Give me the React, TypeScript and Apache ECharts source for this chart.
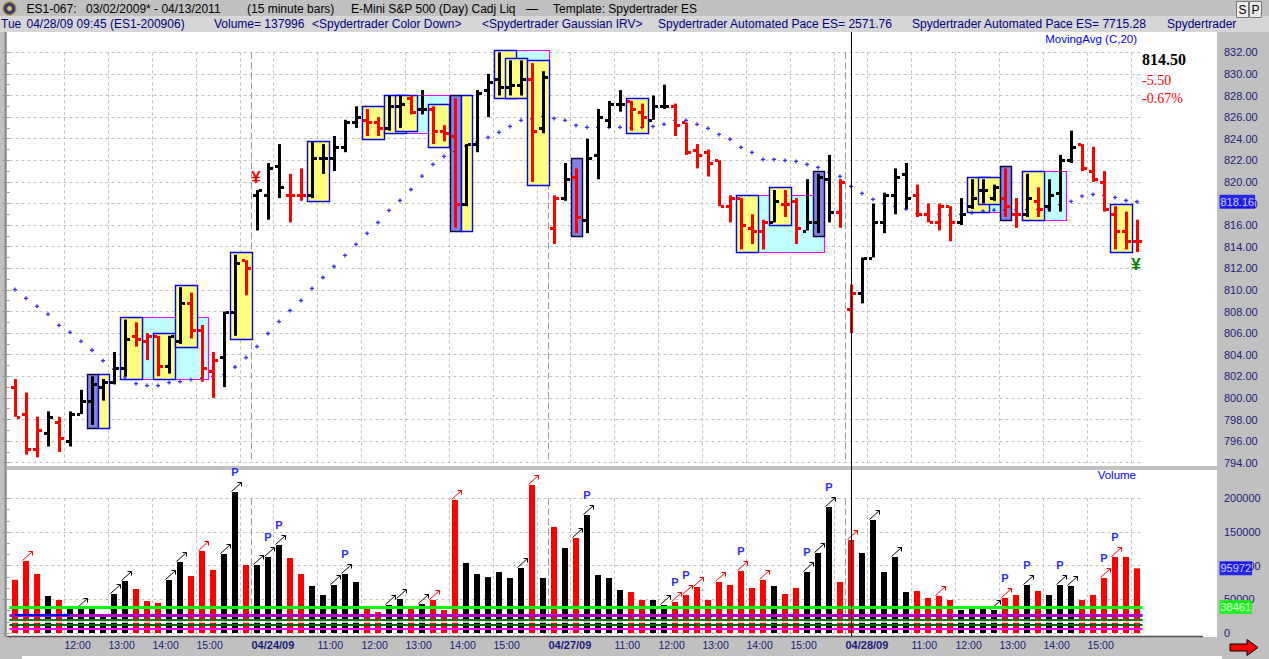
import React, { useEffect, useRef } from "react";
import * as echarts from "echarts";

const W = 1269;
const H = 659;
const FONT = "'Liberation Sans', Arial, sans-serif";
const SERIF = "'Liberation Serif', 'Times New Roman', serif";
const RED = "#ff0000";
const BLACK = "#000000";

// ---------- sessions / categories ----------
const sessions = [
  { day: "04/23/09", start: "11:00", count: 22 },
  { day: "04/24/09", start: "09:45", count: 27 },
  { day: "04/27/09", start: "09:45", count: 27 },
  { day: "04/28/09", start: "09:45", count: 27 },
];

// ---------- OHLC (15 minute bars) ----------
const opens = [
  801.0, 798.5, 795.25, 796.75, 797.75, 796.0, 798.5, 799.75, 801.0, 801.5,
  802.75, 805.75, 805.25, 805.75, 803.0, 805.25, 808.75, 806.25, 802.5, 803.75,
  808.0, 812.75, 818.75, 818.75, 821.5, 818.75, 818.75, 818.75, 822.25, 822.25,
  823.25, 825.5, 825.75, 825.5, 825.0, 827.0, 827.75, 826.75, 826.75, 824.75,
  824.25, 818.0, 823.5, 828.5, 829.5, 828.75, 829.0, 829.5, 825.0, 815.75,
  818.5, 820.5, 816.5, 822.5, 825.75, 827.25, 827.5, 826.5, 825.75, 827.0,
  827.0, 825.5, 823.0, 822.75, 822.0, 817.75, 818.5, 815.75, 815.5, 816.25,
  818.0, 818.25, 815.5, 816.25, 820.25, 817.25, 808.25, 809.75, 813.0, 816.25,
  818.75, 820.75, 818.75, 817.0, 816.25, 817.75, 816.25, 817.75, 819.25, 818.5,
  818.5, 817.0, 817.0, 818.25, 817.75, 819.0, 822.0, 823.5, 821.0, 820.0,
  817.0, 815.5, 814.5,
];
const highs = [
  801.75, 800.5, 798.25, 798.75, 798.25, 798.75, 800.75, 802.0, 801.75, 804.25,
  807.25, 807.0, 806.0, 805.75, 805.75, 810.25, 809.75, 806.75, 804.25, 808.0,
  813.25, 812.75, 819.25, 821.75, 823.5, 820.75, 821.25, 823.75, 823.5, 824.25,
  825.75, 827.0, 826.75, 826.0, 828.0, 828.0, 828.0, 828.5, 827.0, 825.25,
  827.75, 823.5, 828.5, 830.0, 832.0, 831.25, 831.25, 831.0, 830.25, 818.75,
  821.75, 821.25, 824.0, 826.75, 827.5, 828.5, 827.5, 827.25, 828.0, 829.0,
  827.25, 825.5, 823.5, 823.0, 822.0, 818.75, 818.5, 817.0, 816.5, 819.25,
  819.25, 818.5, 820.25, 820.75, 822.5, 820.25, 810.5, 813.0, 818.0, 819.0,
  821.25, 821.75, 819.75, 818.0, 818.0, 817.75, 818.5, 820.25, 820.25, 819.75,
  821.25, 818.5, 820.75, 819.5, 820.25, 822.5, 824.75, 823.5, 823.25, 821.0,
  817.75, 817.25, 816.5,
];
const lows = [
  798.25, 794.75, 794.5, 795.5, 795.0, 795.5, 798.5, 797.5, 799.75, 801.25,
  802.0, 804.75, 803.5, 802.0, 802.25, 805.0, 805.5, 801.5, 800.0, 801.0,
  805.75, 809.5, 815.5, 816.5, 818.5, 816.25, 818.25, 818.5, 820.75, 821.0,
  822.75, 825.0, 824.25, 824.25, 824.75, 825.0, 826.25, 826.25, 823.5, 823.75,
  815.75, 817.75, 822.75, 826.0, 828.0, 828.0, 828.0, 820.0, 824.5, 814.25,
  818.25, 815.25, 815.25, 820.25, 825.0, 826.5, 824.75, 825.0, 825.75, 826.75,
  824.25, 822.5, 821.25, 820.5, 817.75, 816.25, 813.75, 814.25, 813.75, 816.25,
  816.75, 814.25, 815.5, 815.25, 816.25, 815.75, 806.0, 808.75, 813.0, 815.25,
  817.0, 817.5, 816.75, 816.25, 815.5, 814.5, 816.0, 817.5, 818.0, 818.25,
  816.75, 815.75, 816.75, 816.75, 817.25, 817.25, 821.75, 821.0, 820.0, 817.25,
  813.75, 813.75, 813.5,
];
const closes = [
  798.25, 795.25, 797.0, 798.25, 796.25, 798.5, 799.75, 801.25, 801.5, 802.75,
  805.5, 805.5, 805.75, 803.0, 805.75, 808.75, 806.25, 802.75, 803.5, 808.0,
  812.5, 812.0, 819.25, 821.25, 819.5, 818.75, 818.75, 822.25, 822.25, 823.25,
  825.5, 826.0, 825.5, 825.0, 827.0, 827.25, 826.5, 826.75, 824.75, 824.5,
  818.0, 823.5, 828.25, 829.25, 828.75, 829.0, 829.5, 824.75, 829.75, 818.5,
  820.25, 816.75, 822.25, 826.0, 827.25, 827.25, 826.75, 826.0, 827.0, 827.0,
  825.25, 822.75, 822.5, 821.75, 817.75, 818.5, 816.0, 815.5, 816.25, 818.25,
  818.0, 815.75, 816.25, 820.5, 817.25, 820.0, 809.75, 813.0, 816.25, 818.75,
  820.5, 818.5, 817.0, 816.25, 817.75, 816.25, 817.0, 818.5, 819.25, 819.5,
  817.75, 817.0, 818.5, 817.5, 818.75, 822.0, 823.25, 821.25, 820.25, 817.5,
  815.5, 814.5, 814.5,
];
// r = red (down colour), b = black
const barColors = (
  "rrrbrbbbbb" + "brrrbbrrrb" + "brbbbrrbbb" + "bbrrbbrbrr" + "rbbbbbbrbr" +
  "brbbbbrrbb" + "rrrrrrrrrb" + "rrbbbrrbbb" + "bbrrrrbbbb" + "rrbrbbbrrr" + "rrr"
).split("");

const volumes = [
  79000, 107000, 87600, 54900, 49000, 37500, 37500, 37500, 26000, 57900,
  77200, 65300, 47500, 44600, 78700, 105400, 84600, 121800, 93600, 117300,
  209400, 101000, 101000, 112900, 130700, 111400, 87600, 69800, 56400, 71300,
  87600, 75700, 37000, 31000, 41500, 50500, 37000, 43000, 49000, 34000,
  197500, 104000, 87600, 83000, 90600, 81700, 96500, 219800, 81700, 157400,
  126200, 141000, 175200, 86100, 81700, 63900, 60900, 49000, 49000, 41600,
  46000, 56400, 68300, 49000, 75700, 71300, 92100, 66800, 78700, 69800,
  57900, 66800, 90600, 118800, 187100, 75700, 137996, 118800, 167800, 90600,
  112900, 60900, 62400, 52000, 55000, 49000, 34200, 40100, 37000, 34200,
  52000, 56400, 71300, 62400, 56400, 71300, 69800, 49000, 56400, 81700,
  112900, 112900, 95972,
];

const movingAvg = [
  810.03, 809.22, 808.48, 807.74, 806.72, 806.07, 805.24, 804.41, 803.45, 802.65,
  801.94, 801.32, 801.14, 801.14, 801.42, 801.51, 801.69, 801.84, 801.98, 802.16,
  802.86, 803.73, 804.75, 805.96, 807.07, 808.09, 809.02, 810.13, 811.15, 812.17,
  813.19, 814.21, 815.23, 816.24, 817.36, 818.28, 819.3, 820.54, 821.62, 822.36,
  822.8, 823.32, 823.7, 824.12, 824.59, 825.14, 825.7, 825.85, 826.05, 825.88,
  825.7, 825.23, 825.05, 825.05, 825.05, 825.05, 825.0, 825.05, 825.14, 825.33,
  825.7, 825.7, 825.33, 824.96, 824.4, 823.94, 823.2, 822.73, 822.08, 822.08,
  821.99, 821.9, 821.62, 821.34, 820.88, 820.51, 819.58, 818.93, 818.38, 818.0,
  817.75, 817.48, 817.08, 817.0, 817.0, 816.92, 817.0, 817.14, 817.29, 817.39,
  817.4, 817.42, 817.42, 817.45, 817.5, 817.9, 818.19, 818.68, 818.84, 818.75,
  818.56, 818.28, 818.16,
];

// highlight boxes: [fromBar, toBar, topPrice, bottomPrice, kind] c=cyan y=yellow p=purple
const boxes: [number, number, number, number, string][] = [
  [12, 17, 807.5, 801.75, "c"],
  [34, 39, 828.0, 824.5, "c"],
  [44, 48, 832.25, 827.75, "c"],
  [66, 73, 818.75, 813.5, "c"],
  [87, 89, 820.5, 817.25, "c"],
  [92, 95, 821.0, 816.5, "c"],
  [7, 7, 802.25, 797.25, "p"],
  [8, 8, 802.25, 797.25, "y"],
  [10, 11, 807.5, 801.75, "y"],
  [13, 14, 806.0, 801.75, "y"],
  [15, 16, 810.5, 804.75, "y"],
  [20, 21, 813.5, 805.5, "y"],
  [27, 28, 823.75, 818.25, "y"],
  [32, 33, 827.0, 824.0, "y"],
  [34, 35, 828.0, 824.5, "y"],
  [35, 36, 828.0, 824.75, "y"],
  [38, 39, 827.25, 823.25, "y"],
  [40, 40, 828.0, 815.5, "p"],
  [41, 41, 828.0, 815.5, "y"],
  [44, 45, 832.25, 827.75, "y"],
  [45, 46, 831.5, 827.75, "y"],
  [47, 48, 831.25, 819.75, "y"],
  [51, 51, 822.25, 815.0, "p"],
  [56, 57, 827.75, 824.5, "y"],
  [66, 67, 818.75, 813.5, "y"],
  [69, 70, 819.5, 816.0, "y"],
  [73, 73, 821.0, 815.0, "p"],
  [87, 88, 820.5, 817.25, "y"],
  [88, 89, 820.5, 818.0, "y"],
  [90, 90, 821.5, 816.5, "p"],
  [92, 93, 821.0, 816.5, "y"],
  [100, 101, 818.0, 813.5, "y"],
];

// volume arrows [bar, colour]
const arrowList: [number, string][] = [
  [1, "r"], [6, "b"], [9, "b"], [10, "b"], [14, "b"], [15, "b"], [17, "r"], [19, "b"],
  [20, "b"], [22, "b"], [23, "b"], [24, "b"], [29, "b"], [30, "b"], [34, "b"], [35, "b"],
  [37, "b"], [38, "r"], [40, "r"], [46, "b"], [47, "r"], [51, "b"], [52, "b"], [59, "b"],
  [60, "r"], [61, "r"], [62, "r"], [64, "r"], [66, "r"], [68, "r"], [72, "b"], [73, "b"],
  [74, "b"], [76, "r"], [78, "b"], [80, "b"], [84, "r"], [89, "b"], [90, "r"], [92, "b"],
  [95, "b"], [96, "b"], [99, "r"], [100, "r"],
];
const pBars = [20, 23, 24, 30, 52, 60, 61, 66, 72, 74, 90, 92, 95, 99, 100];

// ¥ signals
const yenBars = [22, 102];
const yenSides = ["above", "below"];
const yenColors = ["#ff0000", "#008000"];

// axis ticks
const priceMin = 794;
const priceMax = 832;
const priceStep = 2;
const volMax = 200000;
const volStep = 50000;
const hourLines = [5, 9, 13, 17, 21, 24, 28, 32, 36, 40, 44, 48, 51, 55, 59, 63, 67, 71, 75, 78, 82, 86, 90, 94, 98, 102];
const dayLines = [22, 49, 76];
const xTickIdx = [5, 9, 13, 17, 22, 28, 32, 36, 40, 44, 49, 55, 59, 63, 67, 71, 76, 82, 86, 90, 94, 98];
const xTickText = [
  "12:00", "13:00", "14:00", "15:00", "04/24/09", "11:00", "12:00", "13:00", "14:00", "15:00",
  "04/27/09", "11:00", "12:00", "13:00", "14:00", "15:00", "04/28/09", "11:00", "12:00", "13:00",
  "14:00", "15:00",
];

// volume reference lines
const avgVolume = 38461;
const volLineValues = [avgVolume, 26000, 20300, 16700, 12600, 5900];
const volLineColors = ["#00ff00", "#b000c8", "#008000", "#ffffff", "#006400", "#ff00ff"];
const volLineWidths = [3, 3, 2, 1.5, 2, 2];
const blueLine = { from: 0, to: 5, value: 27800 };

const cursorBar = 76;
const prevCloseBar = 75;

// ---------- derived categories ----------
const barCats: string[] = [];
sessions.forEach((s) => {
  let [h, m] = s.start.split(":").map(Number);
  for (let k = 0; k < s.count; k++) {
    barCats.push(`${s.day} ${String(h).padStart(2, "0")}:${String(m).padStart(2, "0")}`);
    m += 15;
    if (m >= 60) {
      m -= 60;
      h += 1;
    }
  }
});
const boundaryCats = Array.from({ length: barCats.length + 1 }, (_, i) => String(i));
const hourSet = new Set(hourLines);
const daySet = new Set(dayLines);
const tickMap = new Map<number, string>();
xTickIdx.forEach((idx, k) => tickMap.set(idx, xTickText[k]));

// ---------- layout ----------
const GL = 9.5;
const BAND = 11;
const GW = BAND * barCats.length;
const PT = 52.3;
const PH = 410.4;
const VT = 498.3;
const VH = 134.7;
const AXR = 52;

const gridLine = { color: "#c0c0c0", type: [3, 3] as any, width: 1 };
const dayLine = { color: "#9a9a9a", type: [7, 3] as any, width: 1 };

function txt(x: number, y: number, text: string, fill: string, font: string, align = "left") {
  return {
    type: "text",
    x,
    y,
    z: 100,
    silent: true,
    style: {
      text,
      fill,
      font,
      align,
      textAlign: align,
      verticalAlign: "middle",
      textVerticalAlign: "middle",
    },
  };
}

function buildOption() {
  const last = closes[closes.length - 1];
  const prev = closes[prevCloseBar];
  const chg = last - prev;
  const pct = (chg / prev) * 100;

  const hdr1 = `12px ${FONT}`;
  const navy = "#000080";

  const graphics: any[] = [
    { type: "rect", z: -100, silent: true, shape: { x: 0, y: 0, width: W, height: H }, style: { fill: "#c0c0c0" } },
    { type: "rect", z: -99, silent: true, shape: { x: 0, y: 16, width: W, height: 16 }, style: { fill: "#d6d6d6" } },
    { type: "rect", z: -99, silent: true, shape: { x: 7, y: 32, width: 1210, height: 434 }, style: { fill: "#ffffff" } },
    { type: "rect", z: -99, silent: true, shape: { x: 7, y: 470, width: 1210, height: 167 }, style: { fill: "#ffffff" } },
    { type: "line", z: -98, silent: true, shape: { x1: 5.5, y1: 32, x2: 5.5, y2: 637 }, style: { stroke: "#8a8a8a", lineWidth: 2 } },
    { type: "line", z: 10, silent: true, shape: { x1: 7, y1: 636.5, x2: 1203, y2: 636.5 }, style: { stroke: "#505050", lineWidth: 1.5 } },
    { type: "rect", z: -99, silent: true, shape: { x: 22, y: 656, width: 1200, height: 3 }, style: { fill: "#ffffff" } },
    // header icon
    { type: "circle", z: 100, silent: true, shape: { cx: 9.5, cy: 8.5, r: 6.5 }, style: { fill: "#3c3c6e", stroke: "#b89a40", lineWidth: 1.2 } },
    { type: "circle", z: 101, silent: true, shape: { cx: 9.5, cy: 8.5, r: 2.5 }, style: { fill: "#d8c070" } },
    // S / P buttons
    { type: "rect", z: 100, silent: true, shape: { x: 1236.5, y: 1.5, width: 12, height: 16 }, style: { fill: "#ececec", stroke: "#7a7a7a", lineWidth: 1 } },
    { type: "rect", z: 100, silent: true, shape: { x: 1249.5, y: 1.5, width: 12, height: 16 }, style: { fill: "#ececec", stroke: "#7a7a7a", lineWidth: 1 } },
    txt(1242.5, 10, "S", BLACK, `12px ${FONT}`, "center"),
    txt(1255.5, 10, "P", BLACK, `12px ${FONT}`, "center"),
    // header row 1
    txt(26.5, 8.5, "ES1-067:", BLACK, hdr1),
    txt(86, 8.5, "03/02/2009* - 04/13/2011", BLACK, hdr1),
    txt(247, 8.5, "(15 minute bars)", BLACK, hdr1),
    txt(351, 8.5, "E-Mini S&P 500 (Day) Cadj Liq", BLACK, hdr1),
    txt(526, 8.5, "\u2014", BLACK, hdr1),
    txt(553, 8.5, "Template: Spydertrader ES", BLACK, hdr1),
    // header row 2
    txt(1, 24, "Tue", navy, hdr1),
    txt(26.5, 24, `${barCats[cursorBar]} (ES1-200906)`, navy, hdr1),
    txt(214, 24, `Volume= ${volumes[cursorBar]}`, navy, hdr1),
    txt(312, 24, "<Spydertrader Color Down>", navy, hdr1),
    txt(482, 24, "<Spydertrader Gaussian IRV>", navy, hdr1),
    txt(658, 24, "Spydertrader Automated Pace ES= 2571.76", navy, hdr1),
    txt(912, 24, "Spydertrader Automated Pace ES= 7715.28", navy, hdr1),
    txt(1167, 24, "Spydertrader", navy, hdr1),
    // panel captions
    txt(1137, 38.5, "MovingAvg (C,20)", "#0000ff", `11.5px ${FONT}`, "right"),
    txt(1136, 475, "Volume", "#0000ff", `11.5px ${FONT}`, "right"),
    txt(1142, 59.5, last.toFixed(2), BLACK, `bold 16px ${SERIF}`),
    txt(1142, 80, chg.toFixed(2), RED, `14px ${SERIF}`),
    txt(1142, 98, `${pct.toFixed(2)}%`, RED, `14px ${SERIF}`),
    // bottom right arrow
    {
      type: "polygon",
      z: 100,
      silent: true,
      shape: { points: [[1230, 644], [1247, 644], [1247, 639.5], [1258, 647.5], [1247, 655.5], [1247, 651], [1230, 651]] },
      style: { fill: "#ff0000", stroke: "#000000", lineWidth: 1 },
    },
  ];

  const hiddenCat = (grid: number) => ({ type: "category", gridIndex: grid, data: barCats, boundaryGap: true, show: false, position: "bottom" });
  const boundsAxis = (grid: number, set: Set<number>, style: any, labels: boolean) => ({
    type: "category",
    gridIndex: grid,
    position: "bottom",
    data: boundaryCats,
    boundaryGap: false,
    axisLine: { show: false },
    axisTick: { show: false },
    splitLine: { show: true, interval: (i: number) => set.has(i), lineStyle: style },
    axisLabel: labels
      ? {
          show: true,
          interval: (i: number) => tickMap.has(i),
          align: "left",
          margin: 6,
          formatter: (_v: string, i: number) => {
            const t = tickMap.get(i) || "";
            return t.includes("/") ? `{d|${t}}` : `{h|${t}}`;
          },
          rich: {
            d: { fontFamily: FONT, fontSize: 11, fontWeight: "bold", color: "#1a1a78" },
            h: { fontFamily: FONT, fontSize: 10.5, color: "#1a1a78" },
          },
        }
      : { show: false },
  });

  return {
    animation: false,
    graphic: { elements: graphics },
    grid: [
      { left: GL, top: PT, width: GW, height: PH, outerBoundsMode: "none" },
      { left: GL, top: PT, right: AXR, height: PH, outerBoundsMode: "none" },
      { left: GL, top: VT, width: GW, height: VH, outerBoundsMode: "none" },
      { left: GL, top: VT, right: AXR, height: VH, outerBoundsMode: "none" },
    ],
    xAxis: [
      hiddenCat(0),
      boundsAxis(0, hourSet, gridLine, false),
      boundsAxis(0, daySet, dayLine, false),
      { type: "value", gridIndex: 1, min: 0, max: 1, show: false },
      hiddenCat(2),
      boundsAxis(2, hourSet, gridLine, true),
      boundsAxis(2, daySet, dayLine, false),
      { type: "value", gridIndex: 3, min: 0, max: 1, show: false },
    ],
    yAxis: [
      {
        type: "value", gridIndex: 0, min: priceMin, max: priceMax, interval: priceStep,
        axisLine: { show: false }, axisTick: { show: false }, axisLabel: { show: false },
        splitLine: { show: true, lineStyle: gridLine },
      },
      {
        type: "value", gridIndex: 1, position: "right", min: priceMin, max: priceMax, interval: priceStep,
        axisLine: { show: false },
        axisTick: { show: true, inside: true, length: 7, lineStyle: { color: "#9a9a9a" } },
        minorTick: { show: true, splitNumber: 2, length: 4, lineStyle: { color: "#9a9a9a" } },
        splitLine: { show: false },
        axisLabel: { show: true, margin: 7, color: "#1c1c78", fontFamily: FONT, fontSize: 11, formatter: (v: number) => v.toFixed(2) },
      },
      {
        type: "value", gridIndex: 2, min: 0, max: volMax, interval: volStep,
        axisLine: { show: false }, axisTick: { show: false }, axisLabel: { show: false },
        splitLine: { show: true, lineStyle: gridLine },
      },
      {
        type: "value", gridIndex: 3, position: "right", min: 0, max: volMax, interval: volStep,
        axisLine: { show: false },
        axisTick: { show: true, inside: true, length: 7, lineStyle: { color: "#9a9a9a" } },
        minorTick: { show: true, splitNumber: 3, length: 4, lineStyle: { color: "#9a9a9a" } },
        splitLine: { show: false },
        axisLabel: { show: true, margin: 7, color: "#1c1c78", fontFamily: FONT, fontSize: 11, formatter: (v: number) => String(v) },
      },
    ],
    series: [
      // highlight boxes
      {
        type: "custom",
        xAxisIndex: 0,
        yAxisIndex: 0,
        z: 1,
        silent: true,
        data: boxes.map((b) => [b[0], b[1], b[2], b[3]]),
        renderItem: (params: any, api: any) => {
          const kind = boxes[params.dataIndex][4];
          const w = api.size([1, 0])[0];
          const p1 = api.coord([api.value(0), api.value(2)]);
          const p2 = api.coord([api.value(1), api.value(3)]);
          const x1 = Math.round(p1[0] - w / 2) + 0.5;
          const x2 = Math.round(p2[0] + w / 2) + 0.5;
          const y1 = Math.round(p1[1]) + 0.5;
          const y2 = Math.round(p2[1]) + 0.5;
          const style =
            kind === "c"
              ? { fill: "#c0ffff", stroke: "#ff00ff", lineWidth: 1.2 }
              : kind === "p"
              ? { fill: "#8282e6", stroke: "#0a0a40", lineWidth: 1.4 }
              : { fill: "#ffff80", stroke: "#0000ff", lineWidth: 1.4 };
          return { type: "rect", shape: { x: x1, y: y1, width: x2 - x1, height: y2 - y1 }, style };
        },
      },
      // moving average dots
      {
        type: "scatter",
        xAxisIndex: 0,
        yAxisIndex: 0,
        z: 2,
        silent: true,
        symbol: "path://M1,0H2V1H3V2H2V3H1V2H0V1H1Z",
        symbolSize: 4,
        itemStyle: { color: "#0000ff" },
        data: movingAvg.map((v, i) => [i, v]),
      },
      // OHLC bars
      {
        type: "custom",
        xAxisIndex: 0,
        yAxisIndex: 0,
        z: 3,
        silent: true,
        data: opens.map((o, i) => [i, o, highs[i], lows[i], closes[i]]),
        renderItem: (params: any, api: any) => {
          const i = api.value(0);
          const ph = api.coord([i, api.value(2)]);
          const pl = api.coord([i, api.value(3)]);
          const po = api.coord([i, api.value(1)]);
          const pc = api.coord([i, api.value(4)]);
          const x = Math.round(ph[0]);
          const fill = barColors[params.dataIndex] === "r" ? RED : BLACK;
          return {
            type: "group",
            children: [
              { type: "rect", shape: { x: x - 1, y: ph[1], width: 3, height: Math.max(2, pl[1] - ph[1]) }, style: { fill } },
              { type: "rect", shape: { x: x - 4, y: Math.round(po[1]) - 1, width: 3, height: 3 }, style: { fill } },
              { type: "rect", shape: { x: x + 2, y: Math.round(pc[1]) - 1, width: 3, height: 3 }, style: { fill } },
            ],
          };
        },
      },
      // ¥ signals
      {
        type: "custom",
        xAxisIndex: 0,
        yAxisIndex: 0,
        z: 4,
        silent: true,
        data: yenBars.map((b, k) => [b, yenSides[k] === "above" ? highs[b] : lows[b]]),
        renderItem: (params: any, api: any) => {
          const k = params.dataIndex;
          const p = api.coord([api.value(0), api.value(1)]);
          const y = yenSides[k] === "above" ? p[1] - 13 : p[1] + 12;
          return {
            type: "text",
            x: p[0] - 1,
            y,
            style: {
              text: "\u00a5",
              fill: yenColors[k],
              font: `bold 17px ${FONT}`,
              align: "center",
              textAlign: "center",
              verticalAlign: "middle",
              textVerticalAlign: "middle",
            },
          };
        },
      },
      // cursor line spanning both panels
      {
        type: "custom",
        xAxisIndex: 0,
        yAxisIndex: 0,
        z: 20,
        silent: true,
        data: [[cursorBar, priceMin]],
        renderItem: (_p: any, api: any) => {
          const p = api.coord([api.value(0), api.value(1)]);
          const x = Math.round(p[0]) + 0.5;
          return { type: "line", shape: { x1: x, y1: 32, x2: x, y2: 636 }, style: { stroke: "#000000", lineWidth: 1 } };
        },
      },
      // MA last value label box
      {
        type: "scatter",
        xAxisIndex: 3,
        yAxisIndex: 1,
        clip: false,
        silent: true,
        z: 10,
        symbolSize: 1,
        itemStyle: { color: "rgba(0,0,0,0)" },
        data: [[1, movingAvg[movingAvg.length - 1]]],
        label: {
          show: true,
          position: "right",
          distance: 2,
          formatter: (p: any) => p.value[1].toFixed(2),
          backgroundColor: "#0000ff",
          color: "#ffffff",
          fontFamily: FONT,
          fontSize: 11,
          padding: [2, 1, 1, 1],
        },
      },
      // volume bars
      {
        type: "bar",
        xAxisIndex: 4,
        yAxisIndex: 2,
        z: 2,
        clip: false,
        silent: true,
        barWidth: 6,
        data: volumes.map((v, i) => ({ value: v, itemStyle: { color: barColors[i] === "r" ? RED : BLACK } })),
        markLine: {
          silent: true,
          symbol: ["none", "none"],
          label: { show: false },
          data: [
            ...volLineValues.map((v, k) => ({
              yAxis: v,
              lineStyle: { color: volLineColors[k], width: volLineWidths[k], type: "solid" },
            })),
            [
              { coord: [blueLine.from, blueLine.value], lineStyle: { color: "#0000ff", width: 2, type: "solid" } },
              { coord: [blueLine.to, blueLine.value] },
            ],
          ],
        },
      },
      // arrows above volume bars
      {
        type: "custom",
        xAxisIndex: 4,
        yAxisIndex: 2,
        z: 4,
        silent: true,
        data: arrowList.map(([b]) => [b, volumes[b]]),
        renderItem: (params: any, api: any) => {
          const col = arrowList[params.dataIndex][1] === "r" ? RED : BLACK;
          const p = api.coord([api.value(0), api.value(1)]);
          const x = Math.round(p[0]);
          const y = Math.round(p[1]);
          const sx = x - 3.5, sy = y - 0.5, ex = x + 6.5, ey = y - 9.5;
          return {
            type: "group",
            children: [
              { type: "line", shape: { x1: sx, y1: sy, x2: ex, y2: ey }, style: { stroke: col, lineWidth: 1 } },
              { type: "polyline", shape: { points: [[ex - 4, ey], [ex, ey], [ex, ey + 4]] }, style: { stroke: col, lineWidth: 1, fill: null } },
            ],
          };
        },
      },
      // P markers
      {
        type: "custom",
        xAxisIndex: 4,
        yAxisIndex: 2,
        z: 4,
        silent: true,
        data: pBars.map((b) => [b, volumes[b]]),
        renderItem: (_params: any, api: any) => {
          const p = api.coord([api.value(0), api.value(1)]);
          return {
            type: "text",
            x: p[0],
            y: p[1] - 20,
            style: {
              text: "P",
              fill: "#2b2bff",
              font: `bold 11px ${FONT}`,
              align: "center",
              textAlign: "center",
              verticalAlign: "middle",
              textVerticalAlign: "middle",
            },
          };
        },
      },
      // volume axis value boxes
      {
        type: "scatter",
        xAxisIndex: 7,
        yAxisIndex: 3,
        clip: false,
        silent: true,
        z: 10,
        symbolSize: 1,
        itemStyle: { color: "rgba(0,0,0,0)" },
        data: [
          { value: [1, volumes[volumes.length - 1]], label: { backgroundColor: "#0000ff" } },
          { value: [1, avgVolume], label: { backgroundColor: "#00ff00" } },
        ],
        label: {
          show: true,
          position: "right",
          distance: 2,
          formatter: (p: any) => String(p.value[1]),
          color: "#ffffff",
          fontFamily: FONT,
          fontSize: 11,
          padding: [2, 1, 1, 1],
        },
      },
    ],
  };
}

export default function App() {
  const ref = useRef<HTMLDivElement>(null);
  useEffect(() => {
    if (!ref.current) return;
    const chart = echarts.init(ref.current, null, { renderer: "svg" });
    chart.setOption(buildOption() as any);
    return () => chart.dispose();
  }, []);
  return <div ref={ref} style={{ position: "absolute", left: 0, top: 0, width: W, height: H }} />;
}
